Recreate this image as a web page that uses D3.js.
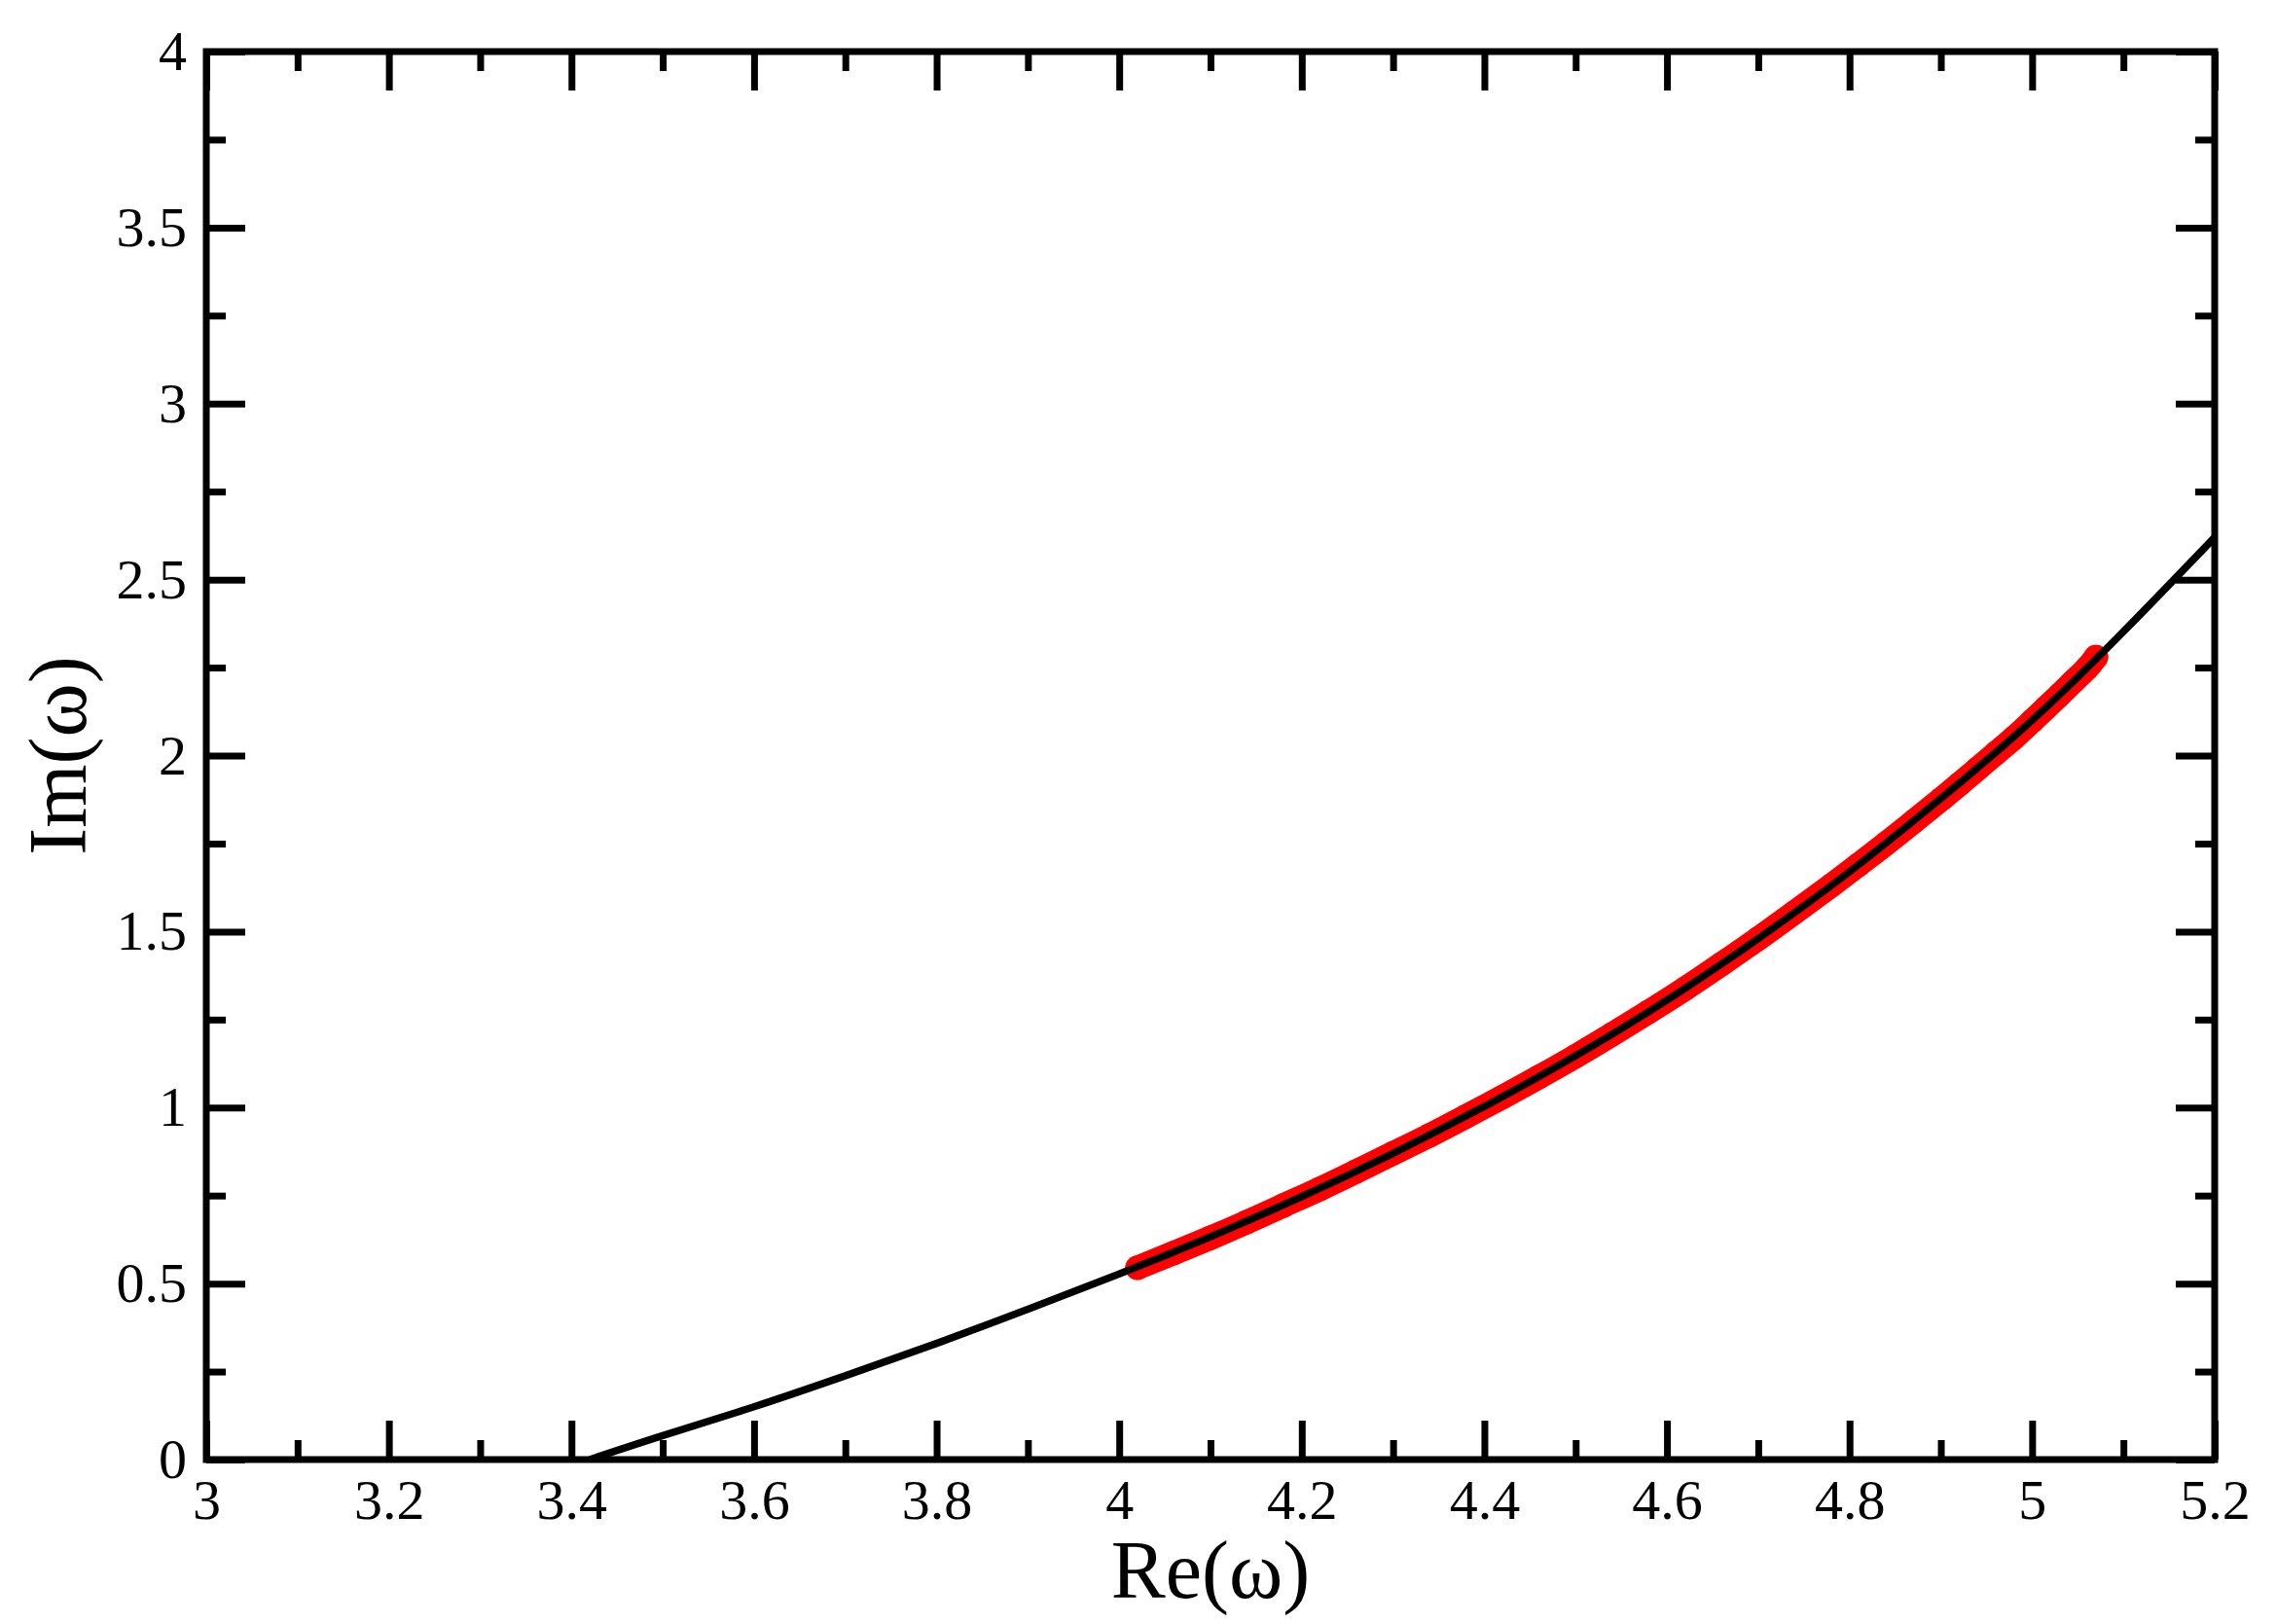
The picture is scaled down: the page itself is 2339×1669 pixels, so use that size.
<!DOCTYPE html>
<html>
<head>
<meta charset="utf-8">
<script src="https://cdn.jsdelivr.net/npm/d3@7"></script>
<style>
  html, body { margin: 0; padding: 0; background: #fff; }
  svg { display: block; }
  text { font-family: "Liberation Serif", "Times New Roman", serif; fill: #000; }
</style>
</head>
<body>
<svg id="chart" width="2339" height="1669"></svg>
<script>
// ---- data ----
const xTicks = [3, 3.2, 3.4, 3.6, 3.8, 4, 4.2, 4.4, 4.6, 4.8, 5, 5.2];
const xTickLabels = ["3", "3.2", "3.4", "3.6", "3.8", "4", "4.2", "4.4", "4.6", "4.8", "5", "5.2"];
const yTicks = [0, 0.5, 1, 1.5, 2, 2.5, 3, 3.5, 4];
const yTickLabels = ["0", "0.5", "1", "1.5", "2", "2.5", "3", "3.5", "4"];

// black curve (theory)
const curveRe = [3.42, 3.5, 3.6, 3.7, 3.8, 3.9, 4.0, 4.1, 4.2, 4.3, 4.4, 4.5, 4.6, 4.7, 4.8, 4.9, 5.0, 5.1, 5.2];
const curveIm = [0, 0.068, 0.15, 0.238, 0.33, 0.427, 0.527, 0.633, 0.747, 0.87, 1.003, 1.147, 1.305, 1.48, 1.67, 1.878, 2.1, 2.352, 2.62];

// red points (numerical)
const pointsRe = [4.02, 4.06, 4.10, 4.14, 4.18, 4.22, 4.26, 4.30, 4.34, 4.38, 4.42, 4.46, 4.50, 4.54, 4.58,
  4.62, 4.66, 4.70, 4.74, 4.78, 4.81, 4.84, 4.87, 4.90, 4.92, 4.94, 4.96, 4.98, 5.00, 5.015, 5.03, 5.045, 5.06, 5.07];
const pointsIm = [0.545, 0.587, 0.63, 0.675, 0.722, 0.769, 0.819, 0.87, 0.921, 0.975, 1.03, 1.087, 1.146, 1.208, 1.272,
  1.338, 1.408, 1.48, 1.555, 1.631, 1.69, 1.75, 1.812, 1.875, 1.918, 1.962, 2.006, 2.05, 2.098, 2.135, 2.172, 2.21, 2.248, 2.28];

const xLabel = "Re(ω)";
const yLabel = "Im(ω)";

// ---- layout ----
const L = 212, R = 2276, T = 53, B = 1500;
const svg = d3.select("#chart");
const x = d3.scaleLinear().domain([3, 5.2]).range([L, R]);
const y = d3.scaleLinear().domain([0, 4]).range([B, T]);

const xMinor = d3.range(0, 23).map(i => 3 + i * 0.1).filter(v => !xTicks.some(t => Math.abs(t - v) < 1e-6));
const yMinor = d3.range(0, 17).map(i => i * 0.25).filter(v => !yTicks.some(t => Math.abs(t - v) < 1e-6));

const SW = 7;
function styleAxis(g) {
  g.select(".domain").remove();
  g.selectAll(".tick line").attr("stroke", "#000").attr("stroke-width", SW);
  g.selectAll(".tick text").attr("font-size", 58).attr("font-family", "Liberation Serif, serif").attr("fill", "#000");
}

// bottom
svg.append("g").attr("transform", `translate(0,${B})`)
  .call(d3.axisBottom(x).tickValues(xTicks).tickSize(-40).tickPadding(20)
    .tickFormat((d, i) => xTickLabels[i]))
  .call(styleAxis);
svg.append("g").attr("transform", `translate(0,${B})`)
  .call(d3.axisBottom(x).tickValues(xMinor).tickSize(-20).tickFormat(""))
  .call(styleAxis);
// top
svg.append("g").attr("transform", `translate(0,${T})`)
  .call(d3.axisTop(x).tickValues(xTicks).tickSize(-40).tickFormat(""))
  .call(styleAxis);
svg.append("g").attr("transform", `translate(0,${T})`)
  .call(d3.axisTop(x).tickValues(xMinor).tickSize(-20).tickFormat(""))
  .call(styleAxis);
// left
svg.append("g").attr("transform", `translate(${L},0)`)
  .call(d3.axisLeft(y).tickValues(yTicks).tickSize(-40).tickPadding(20)
    .tickFormat((d, i) => yTickLabels[i]))
  .call(styleAxis);
svg.append("g").attr("transform", `translate(${L},0)`)
  .call(d3.axisLeft(y).tickValues(yMinor).tickSize(-20).tickFormat(""))
  .call(styleAxis);
// right
svg.append("g").attr("transform", `translate(${R},0)`)
  .call(d3.axisRight(y).tickValues(yTicks).tickSize(-40).tickFormat(""))
  .call(styleAxis);
svg.append("g").attr("transform", `translate(${R},0)`)
  .call(d3.axisRight(y).tickValues(yMinor).tickSize(-20).tickFormat(""))
  .call(styleAxis);

// clip
svg.append("clipPath").attr("id", "clip").append("rect")
  .attr("x", L).attr("y", T).attr("width", R - L).attr("height", B - T);

const plot = svg.append("g").attr("clip-path", "url(#clip)");

// red points: thick band + markers
const pts = pointsRe.map((v, i) => [v, pointsIm[i]]);
plot.append("path").datum(pts)
  .attr("d", d3.line().x(d => x(d[0])).y(d => y(d[1])).curve(d3.curveNatural))
  .attr("fill", "none").attr("stroke", "#ff0000").attr("stroke-width", 25)
  .attr("stroke-linecap", "round").attr("stroke-linejoin", "round");
plot.selectAll("circle.pt").data(pts).enter().append("circle")
  .attr("class", "pt").attr("cx", d => x(d[0])).attr("cy", d => y(d[1])).attr("r", 12.5)
  .attr("fill", "#ff0000");

// black curve
const cpts = curveRe.map((v, i) => [v, curveIm[i]]);
plot.append("path").datum(cpts)
  .attr("d", d3.line().x(d => x(d[0])).y(d => y(d[1])).curve(d3.curveNatural))
  .attr("fill", "none").attr("stroke", "#000").attr("stroke-width", 7.5);

// frame
svg.append("rect").attr("x", L).attr("y", T).attr("width", R - L).attr("height", B - T)
  .attr("fill", "none").attr("stroke", "#000").attr("stroke-width", SW);

// axis titles
svg.append("text").attr("x", (L + R) / 2).attr("y", 1642).attr("text-anchor", "middle")
  .attr("font-size", 84).text(xLabel);
svg.append("text").attr("transform", `translate(88,${(T + B) / 2}) rotate(-90)`).attr("text-anchor", "middle")
  .attr("font-size", 84).text(yLabel);
</script>
</body>
</html>
